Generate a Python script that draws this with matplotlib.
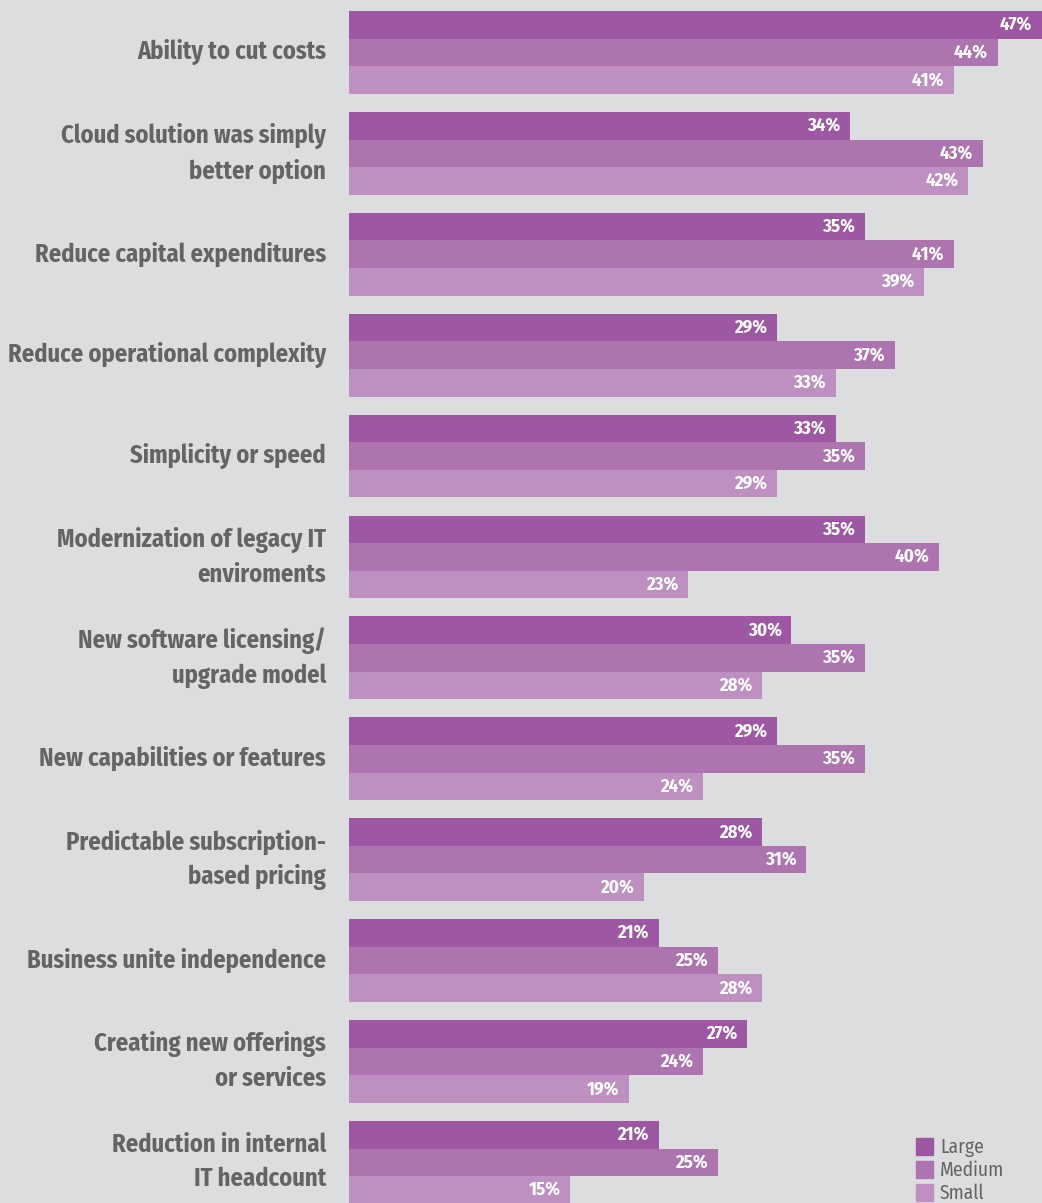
import matplotlib.pyplot as plt
from matplotlib.patches import Rectangle

categories = [
    "Ability to cut costs",
    "Cloud solution was simply\nbetter option",
    "Reduce capital expenditures",
    "Reduce operational complexity",
    "Simplicity or speed",
    "Modernization of legacy IT\nenviroments",
    "New software licensing/\nupgrade model",
    "New capabilities or features",
    "Predictable subscription-\nbased pricing",
    "Business unite independence",
    "Creating new offerings\nor services",
    "Reduction in internal\nIT headcount",
]
large = [47, 34, 35, 29, 33, 35, 30, 29, 28, 21, 27, 21]
medium = [44, 43, 41, 37, 35, 40, 35, 35, 31, 25, 24, 25]
small = [41, 42, 39, 33, 29, 23, 28, 24, 20, 28, 19, 15]
series_names = ["Large", "Medium", "Small"]
colors = ["#9e57a2", "#ad74b0", "#be90c2"]

bg = "#dcdddf"
label_color = "#636466"
cond = ["Fira Sans Condensed", "DejaVu Sans"]

W, H = 1042, 1203
fig = plt.figure(figsize=(W / 100, H / 100), dpi=100, facecolor=bg)
ax_left = 349
ax = fig.add_axes([ax_left / W, 0, 1 - ax_left / W, 1])
ax.set_facecolor(bg)
ax.set_xlim(0, 47)
ax.set_ylim(H, 0)
ax.axis("off")

top0 = 11
pitch = 100.9
bar_h = 27.6

for i, cat in enumerate(categories):
    gtop = top0 + pitch * i
    for j, vals in enumerate([large, medium, small]):
        y = gtop + bar_h * j
        ax.barh(y + bar_h / 2, vals[i], height=bar_h, color=colors[j], left=0)
        ax.annotate(f"{vals[i]}%", xy=(vals[i], y + bar_h / 2), xytext=(-7, 0),
                    textcoords="offset points", ha="right", va="center",
                    color="white", fontsize=13.5, fontweight="bold", family=cond)
    fig.text(326 / W, 1 - (gtop + 1.5 * bar_h) / H, cat, ha="right", va="center",
             color=label_color, fontsize=17.6, fontweight="bold", family=cond,
             linespacing=1.47, multialignment="right")

# legend
for j, name in enumerate(series_names):
    ly = 1147 + 23 * j
    fig.patches.append(Rectangle((916 / W, 1 - (ly + 8) / H), 17 / W, 17 / H,
                                 transform=fig.transFigure, color=colors[j]))
    fig.text(940 / W, 1 - ly / H, name, ha="left", va="center",
             color=label_color, fontsize=14, family=cond)

fig.savefig("out.png", dpi=100, facecolor=bg)
